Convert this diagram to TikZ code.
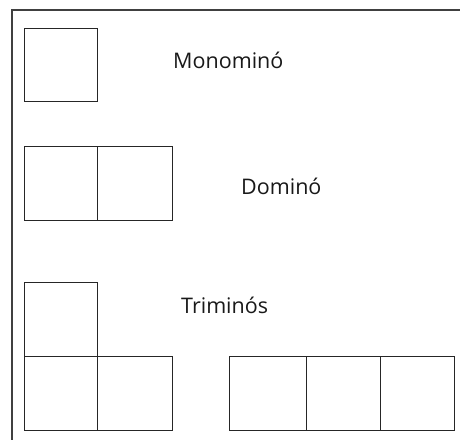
\documentclass[tikz,border=0pt]{standalone}
\usepackage{fontspec}
\setmainfont{Open Sans}
\begin{document}
\begin{tikzpicture}[x=1pt,y=-1pt,
  cell/.style={draw=black!85,line width=0.9pt},
  frame/.style={draw=black!75,line width=1.5pt},
  lbl/.style={anchor=base west,inner sep=0pt,font=\fontsize{21.5}{25}\selectfont,text=black!90}]
\useasboundingbox (0,0) rectangle (460,439);
% outer frame (cut at right and bottom)
\draw[frame] (12,445) -- (12,10) -- (466,10);
% Monomino
\draw[cell] (24,28) rectangle (97,101);
\node[lbl] (mono) at (173,68) {Monominó};
% Domino
\draw[cell] (24,146) rectangle (97,220);
\draw[cell] (97,146) rectangle (172,220);
\node[lbl] (domi) at (241,194) {Dominó};
% L-tromino
\draw[cell] (24,282) rectangle (97,356);
\draw[cell] (24,356) rectangle (97,430);
\draw[cell] (97,356) rectangle (172,430);
\node[lbl] (tri) at (181,313) {Triminós};
% straight tromino
\draw[cell] (229,356) rectangle (306,430);
\draw[cell] (306,356) rectangle (380,430);
\draw[cell] (380,356) rectangle (454,430);
\end{tikzpicture}
\end{document}
